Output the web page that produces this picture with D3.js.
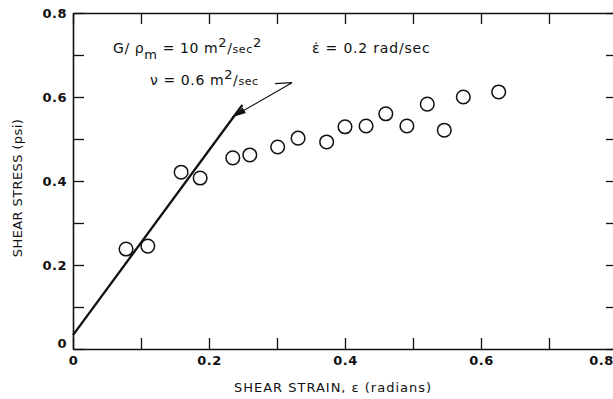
<!DOCTYPE html>
<html>
<head>
<meta charset="utf-8">
<script src="https://cdn.jsdelivr.net/npm/d3@7"></script>
<style>
  body { margin: 0; background: #fff; }
  svg { display: block; }
  text { font-family: "DejaVu Sans", sans-serif; fill: #111; }
  .tick text { font-size: 13px; font-weight: bold; letter-spacing: 0.5px; }
</style>
</head>
<body>
<script>
// shear strain (radians) / shear stress (psi)
var strain = [0.078, 0.110, 0.159, 0.187, 0.235, 0.260, 0.301, 0.331, 0.373, 0.400,
              0.431, 0.460, 0.491, 0.521, 0.546, 0.574, 0.626];
var stress = [0.238, 0.245, 0.421, 0.407, 0.455, 0.462, 0.481, 0.502, 0.493, 0.529,
              0.531, 0.560, 0.531, 0.583, 0.521, 0.600, 0.612];

// fitted line, start and end
var fitStrain = [0, 0.249];
var fitStress = [0.033, 0.581];

// leader from the label to the line
var leaderStrain = [0.297, 0.322, 0.234];
var leaderStress = [0.632, 0.634, 0.552];

var tickValues = [0, 0.1, 0.2, 0.3, 0.4, 0.5, 0.6, 0.7, 0.8];
var tickLabels = ["0", "", "0.2", "", "0.4", "", "0.6", "", "0.8"];

var W = 613, H = 399;
var x = d3.scaleLinear().domain([0, 0.8]).range([73, 617]);
var y = d3.scaleLinear().domain([0, 0.8]).range([349, 13]);

var svg = d3.select("body").append("svg").attr("width", W).attr("height", H);

var fmt = function(d, i){ return tickLabels[i]; };

var xAxis = svg.append("g").attr("transform", "translate(0," + y(0) + ")")
	.call(d3.axisBottom(x).tickValues(tickValues).tickFormat(fmt).tickSize(-11).tickSizeOuter(0).tickPadding(7));
svg.append("g").attr("transform", "translate(0," + y(0.8) + ")")
	.call(d3.axisTop(x).tickValues(tickValues).tickFormat("").tickSize(-11).tickSizeOuter(0));
var yAxis = svg.append("g").attr("transform", "translate(" + x(0) + ",0)")
	.call(d3.axisLeft(y).tickValues(tickValues).tickFormat(fmt).tickSize(-11).tickSizeOuter(0).tickPadding(6));
svg.append("g").attr("transform", "translate(" + x(0.8) + ",0)")
	.call(d3.axisRight(y).tickValues(tickValues).tickFormat("").tickSize(-11).tickSizeOuter(0));

svg.selectAll(".domain").attr("stroke", "#111").attr("stroke-width", 1.6);
svg.selectAll(".tick line").attr("stroke", "#111").attr("stroke-width", 1.3);
svg.selectAll(".tick text").attr("fill", "#111");
// last x label sits left of its tick, at the page edge
xAxis.selectAll(".tick text").filter(function(d){ return d === 0.8; }).attr("dx", -16);
yAxis.selectAll(".tick text").filter(function(d){ return d === 0; }).attr("dy", "-0.1em");

// fitted line
svg.append("line")
	.attr("x1", x(fitStrain[0])).attr("y1", y(fitStress[0]))
	.attr("x2", x(fitStrain[1])).attr("y2", y(fitStress[1]))
	.attr("stroke", "#111").attr("stroke-width", 2.3);

// data points
svg.append("g").selectAll("circle")
	.data(strain)
	.enter().append("circle")
	.attr("cx", function(d){ return x(d); })
	.attr("cy", function(d, i){ return y(stress[i]); })
	.attr("r", 6.8)
	.attr("fill", "none")
	.attr("stroke", "#111")
	.attr("stroke-width", 1.5);

// leader + arrowhead
var pts = leaderStrain.map(function(d, i){ return [x(d), y(leaderStress[i])]; });
svg.append("path")
	.attr("d", d3.line()(pts))
	.attr("fill", "none").attr("stroke", "#111").attr("stroke-width", 1.2);
var tip = pts[2], from = pts[1];
var ang = Math.atan2(tip[1] - from[1], tip[0] - from[0]);
var len = 14, half = 3.2;
var bx = tip[0] - len * Math.cos(ang), by = tip[1] - len * Math.sin(ang);
svg.append("path")
	.attr("d", "M" + tip[0] + "," + tip[1] +
		"L" + (bx + half * Math.sin(ang)) + "," + (by - half * Math.cos(ang)) +
		"L" + (bx - half * Math.sin(ang)) + "," + (by + half * Math.cos(ang)) + "Z")
	.attr("fill", "#111");

// annotations
var t1 = svg.append("text").attr("x", 113).attr("y", 53).attr("font-size", 14).attr("letter-spacing", 0.6);
t1.append("tspan").text("G/ ρ");
t1.append("tspan").attr("dy", 6).attr("font-size", 13).text("m");
t1.append("tspan").attr("dy", -6).text(" = 10 m");
t1.append("tspan").attr("dy", -6).attr("font-size", 13).text("2");
t1.append("tspan").attr("dy", 6).text("/");
t1.append("tspan").attr("font-size", 11).text("sec");
t1.append("tspan").attr("dy", -6).attr("font-size", 13).text("2");

var t2 = svg.append("text").attr("x", 150).attr("y", 85).attr("font-size", 14).attr("letter-spacing", 0.6);
t2.append("tspan").text("ν = 0.6 m");
t2.append("tspan").attr("dy", -6).attr("font-size", 13).text("2");
t2.append("tspan").attr("dy", 6).text("/");
t2.append("tspan").attr("font-size", 11).text("sec");

svg.append("text").attr("x", 312).attr("y", 53).attr("font-size", 14).attr("letter-spacing", 0.8)
	.text("\u03B5\u0307 = 0.2 rad/sec");

// axis titles
svg.append("text")
	.attr("transform", "translate(22,188) rotate(-90)")
	.attr("text-anchor", "middle").attr("font-size", 13).attr("letter-spacing", 0.4)
	.text("SHEAR STRESS (psi)");
svg.append("text")
	.attr("x", 333).attr("y", 392)
	.attr("text-anchor", "middle").attr("font-size", 13).attr("letter-spacing", 1)
	.text("SHEAR STRAIN, \u03B5 (radians)");
</script>
</body>
</html>
